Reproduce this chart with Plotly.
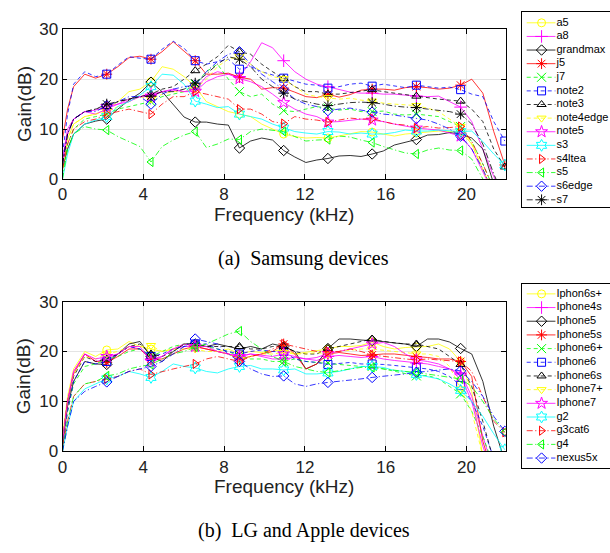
import plotly.graph_objects as go

# ---------------- data ----------------
freq = [0, 0.25, 0.55, 1.1, 1.64, 2.19,
        2.74, 3.29, 3.83, 4.38, 4.93, 5.48, 6.02, 6.57, 7.12, 7.67, 8.21, 8.76,
        9.31, 9.86, 10.4, 10.95, 11.5, 12.05, 12.59, 13.14, 13.69, 14.24, 14.78, 15.33,
        15.88, 16.43, 16.97, 17.52, 18.07, 18.62, 19.16, 19.71, 20.26, 20.81, 21.35, 21.9]

# Samsung devices (Gain, dB)
a5 = [3, 8, 11, 12.5, 13, 14,
      15.5, 17.5, 18, 19.5, 22.5, 22, 20.5, 18.5, 15.5, 14.5, 13.5, 13,
      12.5, 11, 10, 9, 8.5, 8.2, 8.3, 8.2, 8.6, 9, 9.5, 9.4,
      9, 8.6, 9, 9.2, 9.5, 9.6, 9.5, 9.5, 7, 2, -3, -6]
a8 = [4, 10, 12, 13.5, 13, 14,
      15, 16, 16.5, 17, 17.5, 18, 17.5, 18, 20.5, 21.5, 21, 20.5,
      23.5, 27.3, 26.3, 23.7, 21.5, 20, 19, 18.5, 18, 17.4, 17.2, 17.2,
      17, 17, 16.8, 16.6, 16.5, 16.6, 15.5, 14.4, 11.5, 6, 0.5, -4]
grandmax = [2, 6, 9, 11, 11.6, 12,
            14, 15.8, 17.2, 19.4, 17.5, 15, 12.4, 11.4, 11.4, 11, 10.8, 6.2,
            7.6, 8.2, 7.8, 5.7, 4.4, 3.3, 3.8, 4.1, 4.6, 4.7, 4.5, 5,
            5.6, 6.8, 7.4, 7.9, 8.8, 8.9, 9.3, 9.0, 8.2, 6, -1, -5]
j5 = [8, 14, 18.5, 21, 20.2, 21,
      22.5, 24.3, 24.6, 24, 25.5, 27.5, 25.6, 23.7, 21, 21, 21.2, 20.4,
      20, 18, 18.3, 18.2, 17.4, 16.5, 16.3, 17, 16.4, 16.9, 17.8, 18,
      18, 17.8, 18.3, 18.5, 18.3, 18, 18.2, 18.8, 20, 17.2, 9.5, 2.8]
j7 = [1, 7, 10, 12, 12.5, 13,
      14, 14.5, 15, 15.5, 16.5, 17, 17.5, 19, 21.5, 23, 20, 17.5,
      16.5, 17, 15, 13.7, 13.5, 14, 14.5, 14.2, 13.8, 14, 13.5, 13.5,
      13.6, 13, 12.8, 13, 12.8, 12.5, 11.5, 10.5, 7.5, 3, -2, -6]
note2 = [5, 13, 19, 21.5, 20.5, 21,
         22.8, 24.5, 24.2, 24, 26, 27.6, 26.2, 23.7, 23, 23.5, 24, 22,
         22.5, 21.5, 20.8, 20.2, 19.6, 19, 18.8, 18.2, 18.5, 19, 19.2, 18.6,
         19, 18.6, 18.3, 18.8, 18.5, 18.2, 18.4, 17.9, 17, 16.5, 11.5, 7.6]
note3 = [3, 9, 12, 13.5, 14, 14.5,
         15.5, 16, 16.5, 17, 18, 18.5, 20, 21.7, 23, 24.5, 26.8, 25.5,
         25, 23, 21.5, 20.1, 18.5, 17.5, 17.5, 17, 17, 17.3, 17.5, 17.9,
         17.5, 17.2, 16.8, 16.6, 16.2, 16, 15.8, 15.6, 14, 11.5, 6, 2.4]
note4edge = [2, 8, 11, 12.5, 13, 13.5,
             14.5, 15.5, 16.5, 16, 17, 17.5, 17.5, 18, 20, 22.5, 24, 24.5,
             23, 21.5, 20.5, 20.1, 18.5, 17, 16.5, 16.3, 16, 16.2, 15.8, 15.6,
             15.2, 15, 14.8, 14.7, 14.2, 13.5, 12, 10.5, 7, 2, -3, -6]
note5 = [3, 9, 12, 13.5, 13.8, 14.5,
         15, 15.5, 16.5, 16.5, 17.5, 17.8, 17.5, 17.5, 19.5, 20.5, 21, 20.1,
         19.5, 18.5, 17, 15.3, 14, 13, 12.5, 11.4, 11.5, 11.8, 12, 11.8,
         11.5, 11, 10.6, 10.2, 10, 9.8, 9.2, 8.6, 6, 1.5, -3, -6]
s3 = [0, 5, 9, 11, 11.8, 12.5,
      14.5, 15.5, 16.8, 18.5, 21, 20.8, 19, 15.6, 15, 14.3, 14.5, 13,
      12.5, 12, 11, 10.2, 9.5, 9.2, 9, 9.5, 9.4, 9, 9.2, 9,
      9, 9.3, 9.8, 9.6, 9.6, 9.8, 9.6, 9.5, 9.6, 7.5, 5, 2.8]
s4ltea = [2, 7, 10, 11.5, 12, 13,
          13.5, 14, 13.5, 13, 15, 16.5, 16.5, 17.5, 17, 16.5, 16, 14,
          14, 13, 11.5, 11.1, 12.5, 12, 11.8, 11.4, 11.8, 12.2, 12, 12.1,
          11.5, 11, 10.8, 10.2, 10.5, 10.2, 10.3, 10.5, 7.5, 3, -2, -6]
s5 = [0, 6, 9, 10.5, 10, 9.8,
      8.5, 7.5, 6.5, 3.4, 6.5, 7.8, 8.8, 9.5, 6.3, 7, 8, 7.9,
      9.5, 10, 9.8, 9.5, 8.5, 7.6, 7.8, 7.9, 8.6, 8.4, 7.8, 7.3,
      6.5, 5.8, 5.2, 5, 5.8, 6.2, 5.8, 5.7, 4, 0, -4, -7]
s6edge = [3, 9, 12, 13.5, 13.5, 14.7,
          15.5, 16.5, 16.5, 15, 17, 18, 18.5, 18.8, 21.5, 23.5, 25, 25.5,
          23, 21, 19.5, 17.9, 16, 15, 14.5, 13.7, 14, 14.2, 13.8, 13.4,
          13, 12.8, 12.5, 12.1, 11.8, 11, 10, 8.6, 6, 2, -3, -6]
s7 = [3, 9, 12, 13.5, 14, 15,
      15.5, 16, 16.5, 16.6, 17.5, 17.5, 18, 19.2, 21, 23, 24.5, 24,
      22.5, 20, 18.5, 17.2, 16, 15.5, 15, 14.7, 15, 15.3, 15.4, 15.3,
      15, 14.6, 14.4, 14.3, 14, 13.8, 13.5, 13, 11, 7, 1, -4]

# LG and Apple devices (Gain, dB)
iphon6s_plus = [3, 11, 16.5, 20, 19, 20.3,
                20.5, 22, 21, 20.5, 20, 20.5, 21.5, 21, 20.5, 20, 20.5, 19.5,
                20, 19.8, 20, 20.5, 19.5, 19.8, 20.2, 20.5, 21, 21, 21.2, 21.9,
                21, 20.5, 20.8, 20.9, 21, 21.5, 20.5, 18, 12, -1, -6, -8]
iphone4s = [2, 10, 16, 19.5, 18, 18.5,
            19.5, 21, 20.5, 18.5, 19, 20.5, 21, 21, 20.5, 20, 19.5, 19,
            19.5, 19, 18.5, 18.5, 18.8, 18.5, 18.2, 19, 19.2, 19, 18.8, 19,
            18.5, 18.2, 18, 17.7, 17.5, 17, 16.5, 15.7, 11, 3, -4, -8]
iphone5 = [1, 9, 14, 18, 17.5, 17.4,
           19.5, 21.5, 22, 19, 18, 20, 21.5, 21.5, 21, 21.5, 21, 20.5,
           21, 20.5, 21.5, 21, 20, 16.5, 17.5, 20.6, 22.5, 22.5, 22.3, 22.2,
           22, 21.7, 21.5, 21, 22.5, 22.5, 21.9, 20.6, 19.5, 14, 5, -2]
iphone5s = [2, 10, 15.5, 19.5, 18, 17.8,
            19, 20.5, 20.5, 18.5, 18.5, 19.5, 20.5, 21, 20.5, 20, 19.5, 18.5,
            19, 19.5, 20, 21.5, 19.5, 16.5, 17.5, 19.5, 19.8, 19.5, 19.2, 19.3,
            19.5, 19.5, 19.2, 19, 18.8, 18.5, 18.5, 18, 15, 2, -5, -8]
iphone6_plus = [1, 8, 13.5, 17, 17.5, 18.5,
                19, 20, 20.5, 19, 20, 21, 21.5, 21, 21, 20.5, 20, 19,
                18.5, 18.5, 18, 18, 18.5, 18, 17.8, 17.7, 17.5, 17.2, 17, 17,
                16.5, 16, 15.6, 15.1, 15.2, 14.5, 13, 11.5, 8, 3, -3, -8]
iphone6 = [1, 8, 14, 18, 17.5, 18,
           19.5, 21, 20.5, 19, 19.5, 20.5, 21, 21.5, 21.5, 20.5, 20, 19.5,
           20, 20.3, 20, 20, 18.5, 18, 17.8, 17.4, 17.6, 17.8, 17.5, 17.5,
           17.4, 17.2, 17, 16.8, 16.5, 16, 15, 13.2, 10, 5, -2, -8]
iphone6s = [2, 10, 15, 19, 18, 18.5,
            19.5, 21, 21.5, 19.5, 19, 20, 21.5, 21.5, 21, 21, 21, 21,
            20.5, 20.5, 21, 21, 20, 19.5, 19.5, 20.6, 21, 21.5, 22, 22.5,
            22, 21.8, 21.5, 21.5, 21, 20.5, 19, 17.4, 13, 6, -2, -8]
iphone7_plus = [2, 10, 15.5, 19, 18.5, 19.5,
                20, 21, 21, 21.2, 20, 20.5, 20.5, 20.5, 20, 20, 19.5, 18.5,
                19, 19.5, 19.5, 19.8, 19.5, 19.5, 19.8, 19.5, 20, 20.2, 20.5, 20.5,
                20.2, 20, 19.8, 19.5, 19.5, 19, 17, 12.5, 8, -1, -6, -8]
iphone7 = [2, 10, 16, 19.5, 18.5, 19,
           19.5, 21, 21, 18, 19, 20.5, 21.5, 21, 21, 20, 19.5, 19,
           19.5, 19.2, 19, 19.5, 19, 18.5, 18.8, 19.6, 20, 20.5, 21, 21.5,
           21.8, 21, 19.5, 18.3, 18, 17.5, 16.5, 15.1, 10, 1, -5, -8]
g2 = [0, 5, 10, 12.5, 13.5, 14.5,
      15, 16, 15.5, 14.8, 16, 17.5, 17, 16.7, 16, 15.7, 16.5, 17,
      17.2, 16.5, 16.5, 16.3, 16.5, 15.5, 15.5, 15.7, 16, 16.5, 17, 17,
      16.8, 16.2, 16, 15.4, 15, 14.5, 13.5, 12.2, 10, 7, 3.5, 0.3]
g3cat6 = [1, 6, 11, 13.5, 14, 14.5,
          15, 16, 16.5, 15.4, 16, 16.5, 17, 17.5, 18.5, 19, 18.5, 18,
          19, 19.5, 20.5, 21.5, 21, 20.5, 20, 20, 20, 20.5, 20, 19.3,
          19, 18.8, 18.5, 18.3, 18.5, 18.3, 18.2, 18, 16, 11, 6, 3.8]
g4 = [0, 6, 11, 13.5, 14, 15.1,
      15.5, 16.5, 17, 17.4, 18.5, 19.5, 20, 20.9, 21.5, 22.5, 23.5, 24.1,
      22, 20.5, 19, 18, 17, 16.5, 16, 15.8, 16.2, 16.5, 16.8, 16.8,
      16.5, 16.2, 16, 15.8, 15.5, 15.2, 14.8, 14.5, 13, 10, 6.5, 3.8]
nexus5x = [0, 5, 10, 12, 13, 13.9,
           15, 16, 16.5, 17, 18, 19.5, 21, 22.5, 22, 21.5, 19.5, 18,
           16.5, 15.5, 15, 15.1, 13.5, 13, 13.5, 13.8, 14, 14.2, 14.5, 14.8,
           15, 15.2, 15.5, 15.8, 16, 16.2, 16.5, 16.1, 14, 11, 7, 4]

x_ticks = [0, 4, 8, 12, 16, 20]
y_ticks = [0, 10, 20, 30]

samsung_names = ["a5", "a8", "grandmax", "j5", "j7", "note2", "note3", "note4edge",
                 "note5", "s3", "s4ltea", "s5", "s6edge", "s7"]
samsung_values = [a5, a8, grandmax, j5, j7, note2, note3, note4edge,
                  note5, s3, s4ltea, s5, s6edge, s7]
other_names = ["Iphon6s+", "Iphone4s", "Iphone5", "Iphone5s", "Iphone6+", "Iphone6",
               "Iphone6s", "Iphone7+", "Iphone7", "g2", "g3cat6", "g4", "nexus5x"]
other_values = [iphon6s_plus, iphone4s, iphone5, iphone5s, iphone6_plus, iphone6,
                iphone6s, iphone7_plus, iphone7, g2, g3cat6, g4, nexus5x]

# ---------------- styles ----------------
YEL, MAG, BLK, RED, GRN, BLU, CYN = ("#FFFF00", "#FF00FF", "#000000", "#FF0000",
                                     "#00FF00", "#0000FF", "#00FFFF")
SOLID, DASH, DASHDOT = "solid", "4px,3px", "6px,2.5px,1.2px,2.5px"

samsung_styles = [
    (YEL, SOLID, "circle-open"), (MAG, SOLID, "cross-thin-open"),
    (BLK, SOLID, "diamond-open"), (RED, SOLID, "asterisk-open"),
    (GRN, DASH, "x-thin-open"), (BLU, DASH, "square-open"),
    (BLK, DASH, "triangle-up-open"), (YEL, DASH, "triangle-down-open"),
    (MAG, SOLID, "star-open"), (CYN, SOLID, "hexagram-open"),
    (RED, DASHDOT, "triangle-right-open"), (GRN, DASHDOT, "triangle-left-open"),
    (BLU, DASHDOT, "diamond-open"), (BLK, DASHDOT, "asterisk-open"),
]
other_styles = [
    (YEL, SOLID, "circle-open"), (MAG, SOLID, "cross-thin-open"),
    (BLK, SOLID, "diamond-open"), (RED, SOLID, "asterisk-open"),
    (GRN, DASH, "x-thin-open"), (BLU, DASH, "square-open"),
    (BLK, DASH, "triangle-up-open"), (YEL, DASH, "triangle-down-open"),
    (MAG, SOLID, "star-open"), (CYN, SOLID, "hexagram-open"),
    (RED, DASHDOT, "triangle-right-open"), (GRN, DASHDOT, "triangle-left-open"),
    (BLU, DASHDOT, "diamond-open"),
]

W, H = 610, 553
SANS = "Liberation Sans, Arial, Helvetica, sans-serif"
SERIF = "Liberation Serif, Times New Roman, serif"
LW = 0.8
MSIZE = 8
MARK_START, MARK_STEP = 5, 4


def py(p):
    return 1 - p / H


def msize(sym):
    return MSIZE + 1 if ("thin" in sym or "asterisk" in sym or "star" in sym
                         or "hexagram" in sym) else MSIZE


fig = go.Figure()


def add_panel(names, values, styles, xa, ya):
    for name, vals, (col, dash, sym) in zip(names, values, styles):
        fig.add_trace(go.Scatter(
            x=freq, y=vals, mode="lines", xaxis=xa, yaxis=ya, showlegend=False,
            line=dict(color=col, width=LW, dash=dash), hoverinfo="skip"))
        fig.add_trace(go.Scatter(
            x=freq[MARK_START::MARK_STEP], y=vals[MARK_START::MARK_STEP],
            mode="markers", xaxis=xa, yaxis=ya, showlegend=False, name=name,
            marker=dict(symbol=sym, size=msize(sym), color=col,
                        line=dict(color=col, width=1))))


def add_legend(names, styles, xa, ya, y0, dy):
    for i, (name, (col, dash, sym)) in enumerate(zip(names, styles)):
        yy = y0 + dy * i
        fig.add_trace(go.Scatter(
            x=[526, 555], y=[yy, yy], mode="lines", xaxis=xa, yaxis=ya,
            showlegend=False, line=dict(color=col, width=LW, dash=dash),
            hoverinfo="skip"))
        fig.add_trace(go.Scatter(
            x=[541], y=[yy], mode="markers", xaxis=xa, yaxis=ya, showlegend=False,
            marker=dict(symbol=sym, size=msize(sym), color=col,
                        line=dict(color=col, width=1)), hoverinfo="skip"))
        fig.add_trace(go.Scatter(
            x=[556], y=[yy], mode="text", text=[name], textposition="middle right",
            xaxis=xa, yaxis=ya, showlegend=False, cliponaxis=False,
            textfont=dict(family=SANS, size=11, color="#000"), hoverinfo="skip"))


add_panel(samsung_names, samsung_values, samsung_styles, "x", "y")
add_panel(other_names, other_values, other_styles, "x2", "y2")
add_legend(samsung_names, samsung_styles, "x3", "y3", 14.3, 14.1)
add_legend(other_names, other_styles, "x4", "y4", 295, 14.17)

xdom = [58 / W, 505 / W]
common_x = dict(range=[0, 21.95], tickvals=x_ticks, ticks="inside", ticklen=5,
                tickcolor="#000", tickwidth=0.8, mirror="ticks", showline=True,
                linecolor="#000", linewidth=0.8, showgrid=True, gridcolor="#e4e4e4",
                gridwidth=0.7, zeroline=False, domain=xdom,
                tickfont=dict(family=SANS, size=17, color="#222"))
common_y = dict(range=[0, 30], tickvals=y_ticks, ticks="inside", ticklen=5,
                tickcolor="#000", tickwidth=0.8, mirror="ticks", showline=True,
                linecolor="#000", linewidth=0.8, showgrid=True, gridcolor="#e4e4e4",
                gridwidth=0.7, zeroline=False,
                tickfont=dict(family=SANS, size=17, color="#222"))
leg_x = dict(showgrid=False, zeroline=False, showticklabels=False, ticks="",
             showline=True, mirror=True, linecolor="#000", linewidth=0.8,
             domain=[521 / W, 1], range=[521, 610], fixedrange=True)
leg_y = dict(showgrid=False, zeroline=False, showticklabels=False, ticks="",
             showline=True, mirror=False, linecolor="#000", linewidth=0.8,
             fixedrange=True)

fig.update_layout(
    width=W, height=H, margin=dict(l=0, r=0, t=0, b=0),
    paper_bgcolor="white", plot_bgcolor="white", showlegend=False,
    xaxis=dict(common_x, anchor="y"),
    yaxis=dict(common_y, anchor="x", domain=[py(176), py(21)]),
    xaxis2=dict(common_x, anchor="y2"),
    yaxis2=dict(common_y, anchor="x2", domain=[py(458), py(303)]),
    xaxis3=dict(leg_x, anchor="y3"),
    yaxis3=dict(leg_y, anchor="x3", domain=[py(205), py(3)], range=[205, 3]),
    xaxis4=dict(leg_x, anchor="y4"),
    yaxis4=dict(leg_y, anchor="x4", domain=[py(475), py(285)], range=[475, 285]),
)

ann = []
xmid = (58 + 505) / 2 / W
for (ytitle, xtitle, cap_y, cap) in [((21 + 176) / 2, 213, 258, "(a)\u2002Samsung devices"),
                                     ((303 + 458) / 2, 495, 540, "(b)\u2002LG and Apple devices")]:
    ann.append(dict(text="Gain(dB)", x=19 / W, y=py(ytitle), xref="paper", yref="paper",
                    textangle=-90, showarrow=False, xanchor="center", yanchor="middle",
                    font=dict(family=SANS, size=19, color="#222")))
    ann.append(dict(text="Frequency (kHz)", x=xmid, y=py(xtitle), xref="paper",
                    yref="paper", showarrow=False, xanchor="center", yanchor="middle",
                    font=dict(family=SANS, size=19, color="#222")))
    ann.append(dict(text=cap, x=301 / W, y=py(cap_y), xref="paper", yref="paper",
                    showarrow=False, xanchor="center", yanchor="middle",
                    font=dict(family=SERIF, size=20, color="#000")))
fig.update_layout(annotations=ann)

fig.write_html("out.html")
